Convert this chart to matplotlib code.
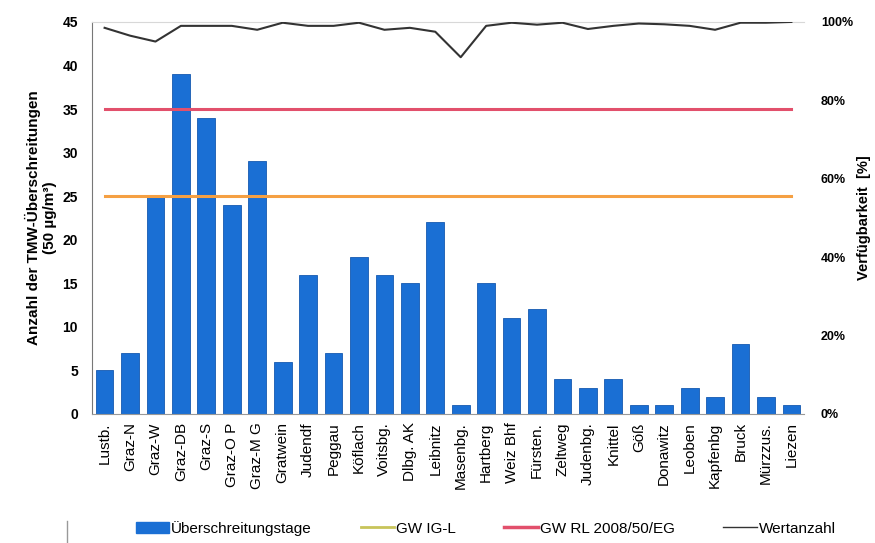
import numpy as np
import matplotlib
matplotlib.use("Agg")
import matplotlib.pyplot as plt
import matplotlib.lines as mlines
import matplotlib.patches as mpatches
from matplotlib.ticker import FuncFormatter

plt.rcParams['font.family'] = ['Liberation Sans', 'DejaVu Sans']

# stations
stations = ["Lustb.", "Graz-N", "Graz-W", "Graz-DB", "Graz-S", "Graz-O P", "Graz-M G",
            "Gratwein", "Judendf", "Peggau", "Köflach", "Voitsbg.", "Dlbg. AK", "Leibnitz",
            "Masenbg.", "Hartberg", "Weiz Bhf", "Fürsten.", "Zeltweg", "Judenbg.", "Knittel",
            "Göß", "Donawitz", "Leoben", "Kapfenbg", "Bruck", "Mürzzus.", "Liezen"]
# days with exceedances
exceed_days = [5, 7, 25, 39, 34, 24, 29, 6, 16, 7, 18, 16, 15, 22,
               1, 15, 11, 12, 4, 3, 4, 1, 1, 3, 2, 8, 2, 1]
# availability in %
availability = [98.5, 96.5, 95, 99, 99, 99, 98, 99.8, 99, 99, 99.8, 98, 98.5, 97.5,
                91, 99, 99.8, 99.3, 99.8, 98.2, 99, 99.6, 99.4, 99, 98, 99.8, 99.8, 100]
gw_igl = 25
gw_rl = 35

x = np.arange(len(stations))

fig = plt.figure(figsize=(8.75, 5.43), dpi=100)
ax = fig.add_axes([0.105, 0.2376, 0.814, 0.722])

ax.bar(x, exceed_days, width=0.7, color='#1a6fd4', edgecolor='#1559b0', linewidth=0.6, zorder=2)
ax.plot(x, [gw_igl] * len(x), color='#f5a043', linewidth=2.2, zorder=3)
ax.plot(x, [gw_rl] * len(x), color='#e2506c', linewidth=2.2, zorder=3)

ax.set_xlim(-0.5, len(x) - 0.5)
ax.set_ylim(0, 45)
ax.set_yticks(range(0, 46, 5))
ax.set_xticks(x)
ax.set_xticklabels(stations, rotation=90, fontsize=11)
ax.tick_params(axis='x', length=0, pad=6)
ax.tick_params(axis='y', length=0, pad=10, labelsize=10)
for lab in ax.get_yticklabels():
    lab.set_fontweight('bold')
ax.spines['right'].set_visible(False)
ax.spines['top'].set_color('#d8d8d8')
ax.spines['left'].set_color('#777777')
ax.spines['bottom'].set_color('#999999')
ax.set_ylabel("Anzahl der TMW-Überschreitungen\n(50 µg/m³)", fontsize=11, fontweight='bold', labelpad=4)

ax2 = ax.twinx()
ax2.plot(x, availability, color='#333333', linewidth=1.5, zorder=4)
ax2.set_ylim(0, 100)
ax2.set_yticks(range(0, 101, 20))
ax2.yaxis.set_major_formatter(FuncFormatter(lambda v, p: "%d%%" % v))
ax2.tick_params(axis='y', length=0, pad=12, labelsize=9)
for lab in ax2.get_yticklabels():
    lab.set_fontweight('bold')
for s in ax2.spines.values():
    s.set_visible(False)
ax2.set_ylabel("Verfügbarkeit  [%]", fontsize=10.5, fontweight='bold', labelpad=3)

# legend
h1 = mpatches.Patch(color='#1a6fd4', label='Überschreitungstage')
h2 = mlines.Line2D([], [], color='#c8c45a', linewidth=2, label='GW IG-L')
h3 = mlines.Line2D([], [], color='#e2506c', linewidth=2.5, label='GW RL 2008/50/EG')
h4 = mlines.Line2D([], [], color='#333333', linewidth=1, label='Wertanzahl')
fig.legend(handles=[h1, h2, h3, h4], loc='lower center', bbox_to_anchor=(0.555, -0.012),
           ncol=4, frameon=False, fontsize=11, columnspacing=3.2, handlelength=2.2,
           handletextpad=0.1)
fig.add_artist(mlines.Line2D([0.076, 0.076], [0.0, 0.04], color='#999999', linewidth=1))

fig.savefig("out.png", dpi=100)
